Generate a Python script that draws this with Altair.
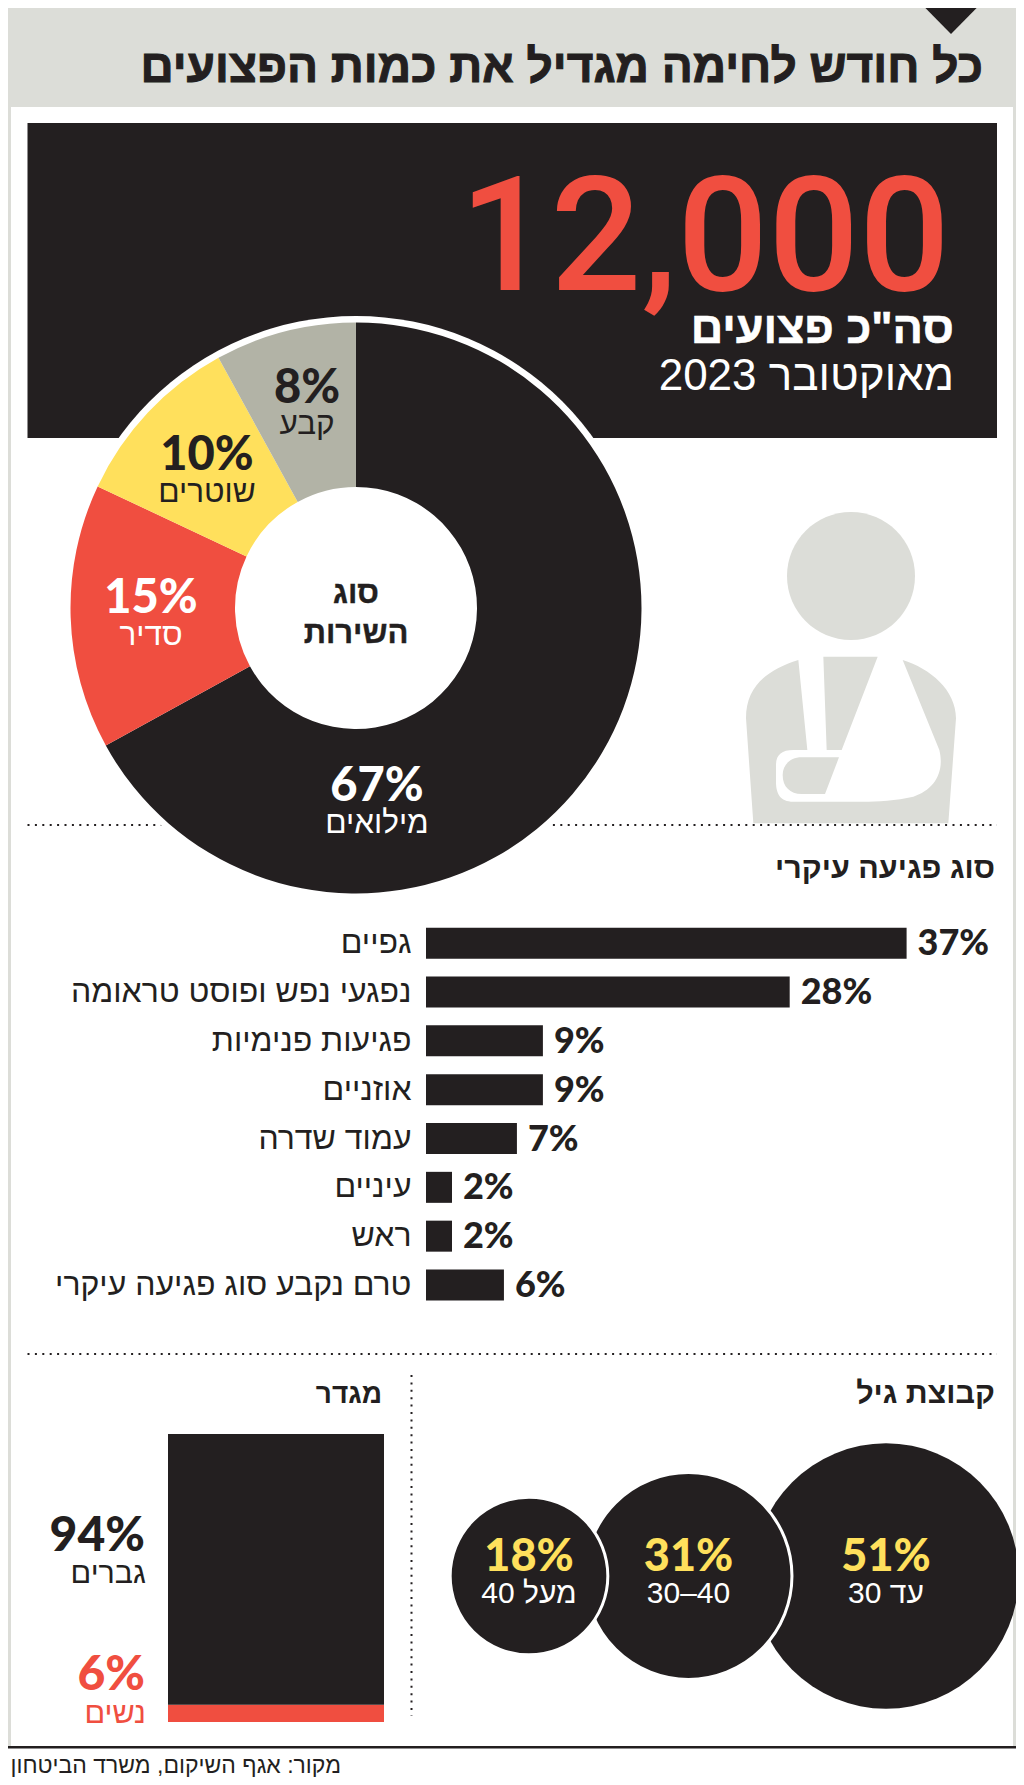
import altair as alt
import pandas as pd

# ---- data ----
title_text = "כל חודש לחימה מגדיל את כמות הפצועים"
total_value = "12,000"
total_label = 'סה"כ פצועים'
total_period = "מאוקטובר 2023"

service_names = ["מילואים", "סדיר", "שוטרים", "קבע"]
service_values = [67, 15, 10, 8]
service_center = ["סוג", "השירות"]

injury_heading = "סוג פגיעה עיקרי"
injury_names = ["גפיים", "נפגעי נפש ופוסט טראומה", "פגיעות פנימיות", "אוזניים", "עמוד שדרה", "עיניים", "ראש", "טרם נקבע סוג פגיעה עיקרי"]
injury_values = [37, 28, 9, 9, 7, 2, 2, 6]

age_heading = "קבוצת גיל"
age_names = ["עד 30", "30–40", "מעל 40"]
age_values = [51, 31, 18]

gender_heading = "מגדר"
gender_names = ["נשים", "גברים"]
gender_values = [6, 94]

source_text = "מקור: אגף השיקום, משרד הביטחון"

# ---- style ----
BLACK = "#231F20"
RED = "#F04E40"
YELLOW = "#FFE05C"
STONE = "#B2B3A6"
PALE = "#DCDDD8"
HE = "Liberation Sans"
NUM = "Lato"
OFF = 8
W, H = 1008, 1769


def rect(x0, x1, y0, y1, color):
    return alt.Chart(pd.DataFrame({"a": [0]})).mark_rect(color=color).encode(
        x=alt.value(x0 - OFF), x2=alt.value(x1 - OFF),
        y=alt.value(y0 - OFF), y2=alt.value(y1 - OFF))


def txt(s, x, y, size, color=BLACK, weight="normal", font=HE, align="right", stroke=0):
    extra = {"stroke": color, "strokeWidth": stroke} if stroke else {}
    return alt.Chart(pd.DataFrame({"t": [s]})).mark_text(
        font=font, fontSize=size, fontWeight=weight, color=color,
        align=align, baseline="alphabetic", **extra).encode(
        x=alt.value(x - OFF), y=alt.value(y - OFF), text="t:N")


def dots(x0, x1, y0, y1):
    return alt.Chart(pd.DataFrame({"a": [0]})).mark_rule(
        color=BLACK, strokeWidth=2, strokeDash=[2, 5.4]).encode(
        x=alt.value(x0 - OFF), x2=alt.value(x1 - OFF),
        y=alt.value(y0 - OFF), y2=alt.value(y1 - OFF))


def shape(path, x, y, color, size=4):
    return alt.Chart(pd.DataFrame({"a": [0]})).mark_point(
        shape=path, filled=True, opacity=1, color=color, strokeWidth=0, size=size).encode(
        x=alt.value(x - OFF), y=alt.value(y - OFF))


layers = []
# panels
layers.append(rect(11, 1013, 107, 1747, "white"))
layers.append(rect(0, 1024, 1747, 1790, "white"))
layers.append(rect(0, 1024, 1746, 1748.5, BLACK))
layers.append(shape("M-33.5,0 L33.5,0 L0,34 Z", 951, 0, BLACK))
layers.append(txt(title_text, 983, 82, 46, BLACK, "bold", stroke=1))
layers.append(rect(27.5, 997, 123, 438, BLACK))
layers.append(txt(total_value, 950, 290, 160, RED, 500, "Roboto"))
layers.append(txt(total_label, 954, 343, 45, "white", "bold", stroke=0.6))
layers.append(txt(total_period, 954, 390, 44, "white"))

# dotted rules
layers.append(dots(27.5, 997, 825, 825))
layers.append(dots(27.5, 997, 1354, 1354))
layers.append(dots(411.5, 411.5, 1375, 1716))

# person icon
body = ("M205,60 C110,90 48,140 48,235 L70,550 L655,550 L678,235 C678,150 600,85 518,60 L628,330 "
        "C645,400 610,450 550,470 C500,482 440,485 400,485 L190,485 C150,485 138,460 138,425 L138,375 "
        "C138,345 155,330 190,330 L232,330 Z "
        "M280,50 L443,50 L335,330 L290,330 Z "
        "M215,352 L327,352 L285,462 L215,462 C180,462 158,440 158,405 C158,375 180,352 215,352 Z")
layers.append(shape(body, 730, 640, PALE, 4 / 9))
layers.append(shape("M-64,0 A64,64 0 1,1 64,0 A64,64 0 1,1 -64,0 Z", 851, 576, PALE))

# donut
CX, CY = 356, 608
layers.append(alt.Chart(pd.DataFrame({"a": [0]})).mark_arc(
    color="white", outerRadius=292, innerRadius=0, theta=0, theta2=6.2832).encode(
    x=alt.value(CX - OFF), y=alt.value(CY - OFF)))
service_df = pd.DataFrame({"n": service_names, "v": service_values, "i": range(4)})
layers.append(alt.Chart(service_df).mark_arc(innerRadius=121, outerRadius=285.5).encode(
    theta=alt.Theta("v:Q", stack=True, scale=alt.Scale(domain=[0, 100])),
    order=alt.Order("i:O"),
    color=alt.Color("n:N", legend=None, scale=alt.Scale(domain=service_names, range=[BLACK, RED, YELLOW, STONE])),
    x=alt.value(CX - OFF), y=alt.value(CY - OFF)))
pie_pos = [(377, 801, 833, "white"), (151, 613, 645, "white"),
           (207, 470, 502, BLACK), (307, 403, 434, BLACK)]
for name, val, (x, y1, y2, c1) in zip(service_names, service_values, pie_pos):
    layers.append(txt(f"{val}%", x, y1, 47, c1, 900, NUM, "center"))
    layers.append(txt(name, x, y2, 31.5, c1, "normal", HE, "center"))
layers.append(txt(service_center[0], CX, 603, 31, BLACK, "bold", HE, "center", stroke=0.4))
layers.append(txt(service_center[1], CX, 643, 31, BLACK, "bold", HE, "center", stroke=0.4))

# injuries
layers.append(txt(injury_heading, 995, 878, 30.5, BLACK, "bold"))
inj_df = pd.DataFrame({"n": injury_names, "v": injury_values, "p": [f"{v}%" for v in injury_values]})
inj_x = alt.Scale(domain=[0, 37], range=[426 - OFF, 906.6 - OFF])
inj_y = alt.Scale(domain=injury_names, range=[918.8 - OFF, 1309.4 - OFF], paddingInner=0.365, paddingOuter=0.1825)
layers.append(alt.Chart(inj_df).mark_bar(color=BLACK).encode(
    x=alt.X("v:Q", scale=inj_x, axis=None),
    y=alt.Y("n:N", scale=inj_y, axis=None, sort=None)))
layers.append(alt.Chart(inj_df).mark_text(font=NUM, fontWeight=900, fontSize=36, align="left", baseline="middle",
                                          dx=11, dy=1, color=BLACK).encode(
    x=alt.X("v:Q", scale=inj_x, axis=None),
    y=alt.Y("n:N", scale=inj_y, axis=None, sort=None), text="p:N"))
layers.append(alt.Chart(inj_df).mark_text(font=HE, fontSize=32, align="right", baseline="middle", color=BLACK).encode(
    x=alt.value(411.5 - OFF),
    y=alt.Y("n:N", scale=inj_y, axis=None, sort=None), text="n:N"))

# age
layers.append(txt(age_heading, 995, 1403, 30.5, BLACK, "bold"))
age_cx = [886, 688.5, 529]
for i, (name, val, cx) in enumerate(zip(age_names, age_values, age_cx)):
    adf = pd.DataFrame({"v": [val]})
    layers.append(alt.Chart(adf).mark_circle(opacity=1, color=BLACK, stroke="white",
                                             strokeWidth=0 if i == 0 else 3).encode(
        x=alt.value(cx - OFF), y=alt.value(1576 - OFF),
        size=alt.Size("v:Q", legend=None, scale=alt.Scale(domain=[0, 51], range=[0, 70437]))))
    layers.append(txt(f"{val}%", cx, 1571, 45, YELLOW, 900, NUM, "center"))
    layers.append(txt(name, cx, 1603, 30, "white", "normal", HE, "center"))

# gender
layers.append(txt(gender_heading, 382, 1403, 28, BLACK, "bold"))
gen_df = pd.DataFrame({"n": gender_names, "v": gender_values, "i": [0, 1]})
layers.append(alt.Chart(gen_df).transform_stack(
    stack="v", as_=["y0", "y1"], sort=[alt.SortField("i")], groupby=[]
).mark_rect().encode(
    x=alt.value(168 - OFF), x2=alt.value(384 - OFF),
    y=alt.Y("y0:Q", axis=None, scale=alt.Scale(domain=[0, 100], range=[1722 - OFF, 1434 - OFF])),
    y2="y1:Q",
    color=alt.Color("n:N", legend=None, scale=alt.Scale(domain=gender_names, range=[RED, BLACK]))))
layers.append(txt(f"{gender_values[1]}%", 145, 1551, 48, BLACK, 900, NUM))
layers.append(txt(gender_names[1], 146, 1583, 30.5))
layers.append(txt(f"{gender_values[0]}%", 145, 1690, 48, RED, 900, NUM))
layers.append(txt(gender_names[0], 146, 1723, 30.5, RED))

layers.append(txt(source_text, 341, 1773, 23))

chart = alt.layer(*layers).resolve_scale(
    x="independent", y="independent", color="independent", size="independent", theta="independent"
).properties(width=W, height=H, padding=0, background=PALE,
             autosize=alt.AutoSizeParams(type="none")).configure_view(strokeWidth=0, continuousWidth=W, continuousHeight=H)

chart.save("out.html", embed_options={"renderer": "svg", "actions": False})
